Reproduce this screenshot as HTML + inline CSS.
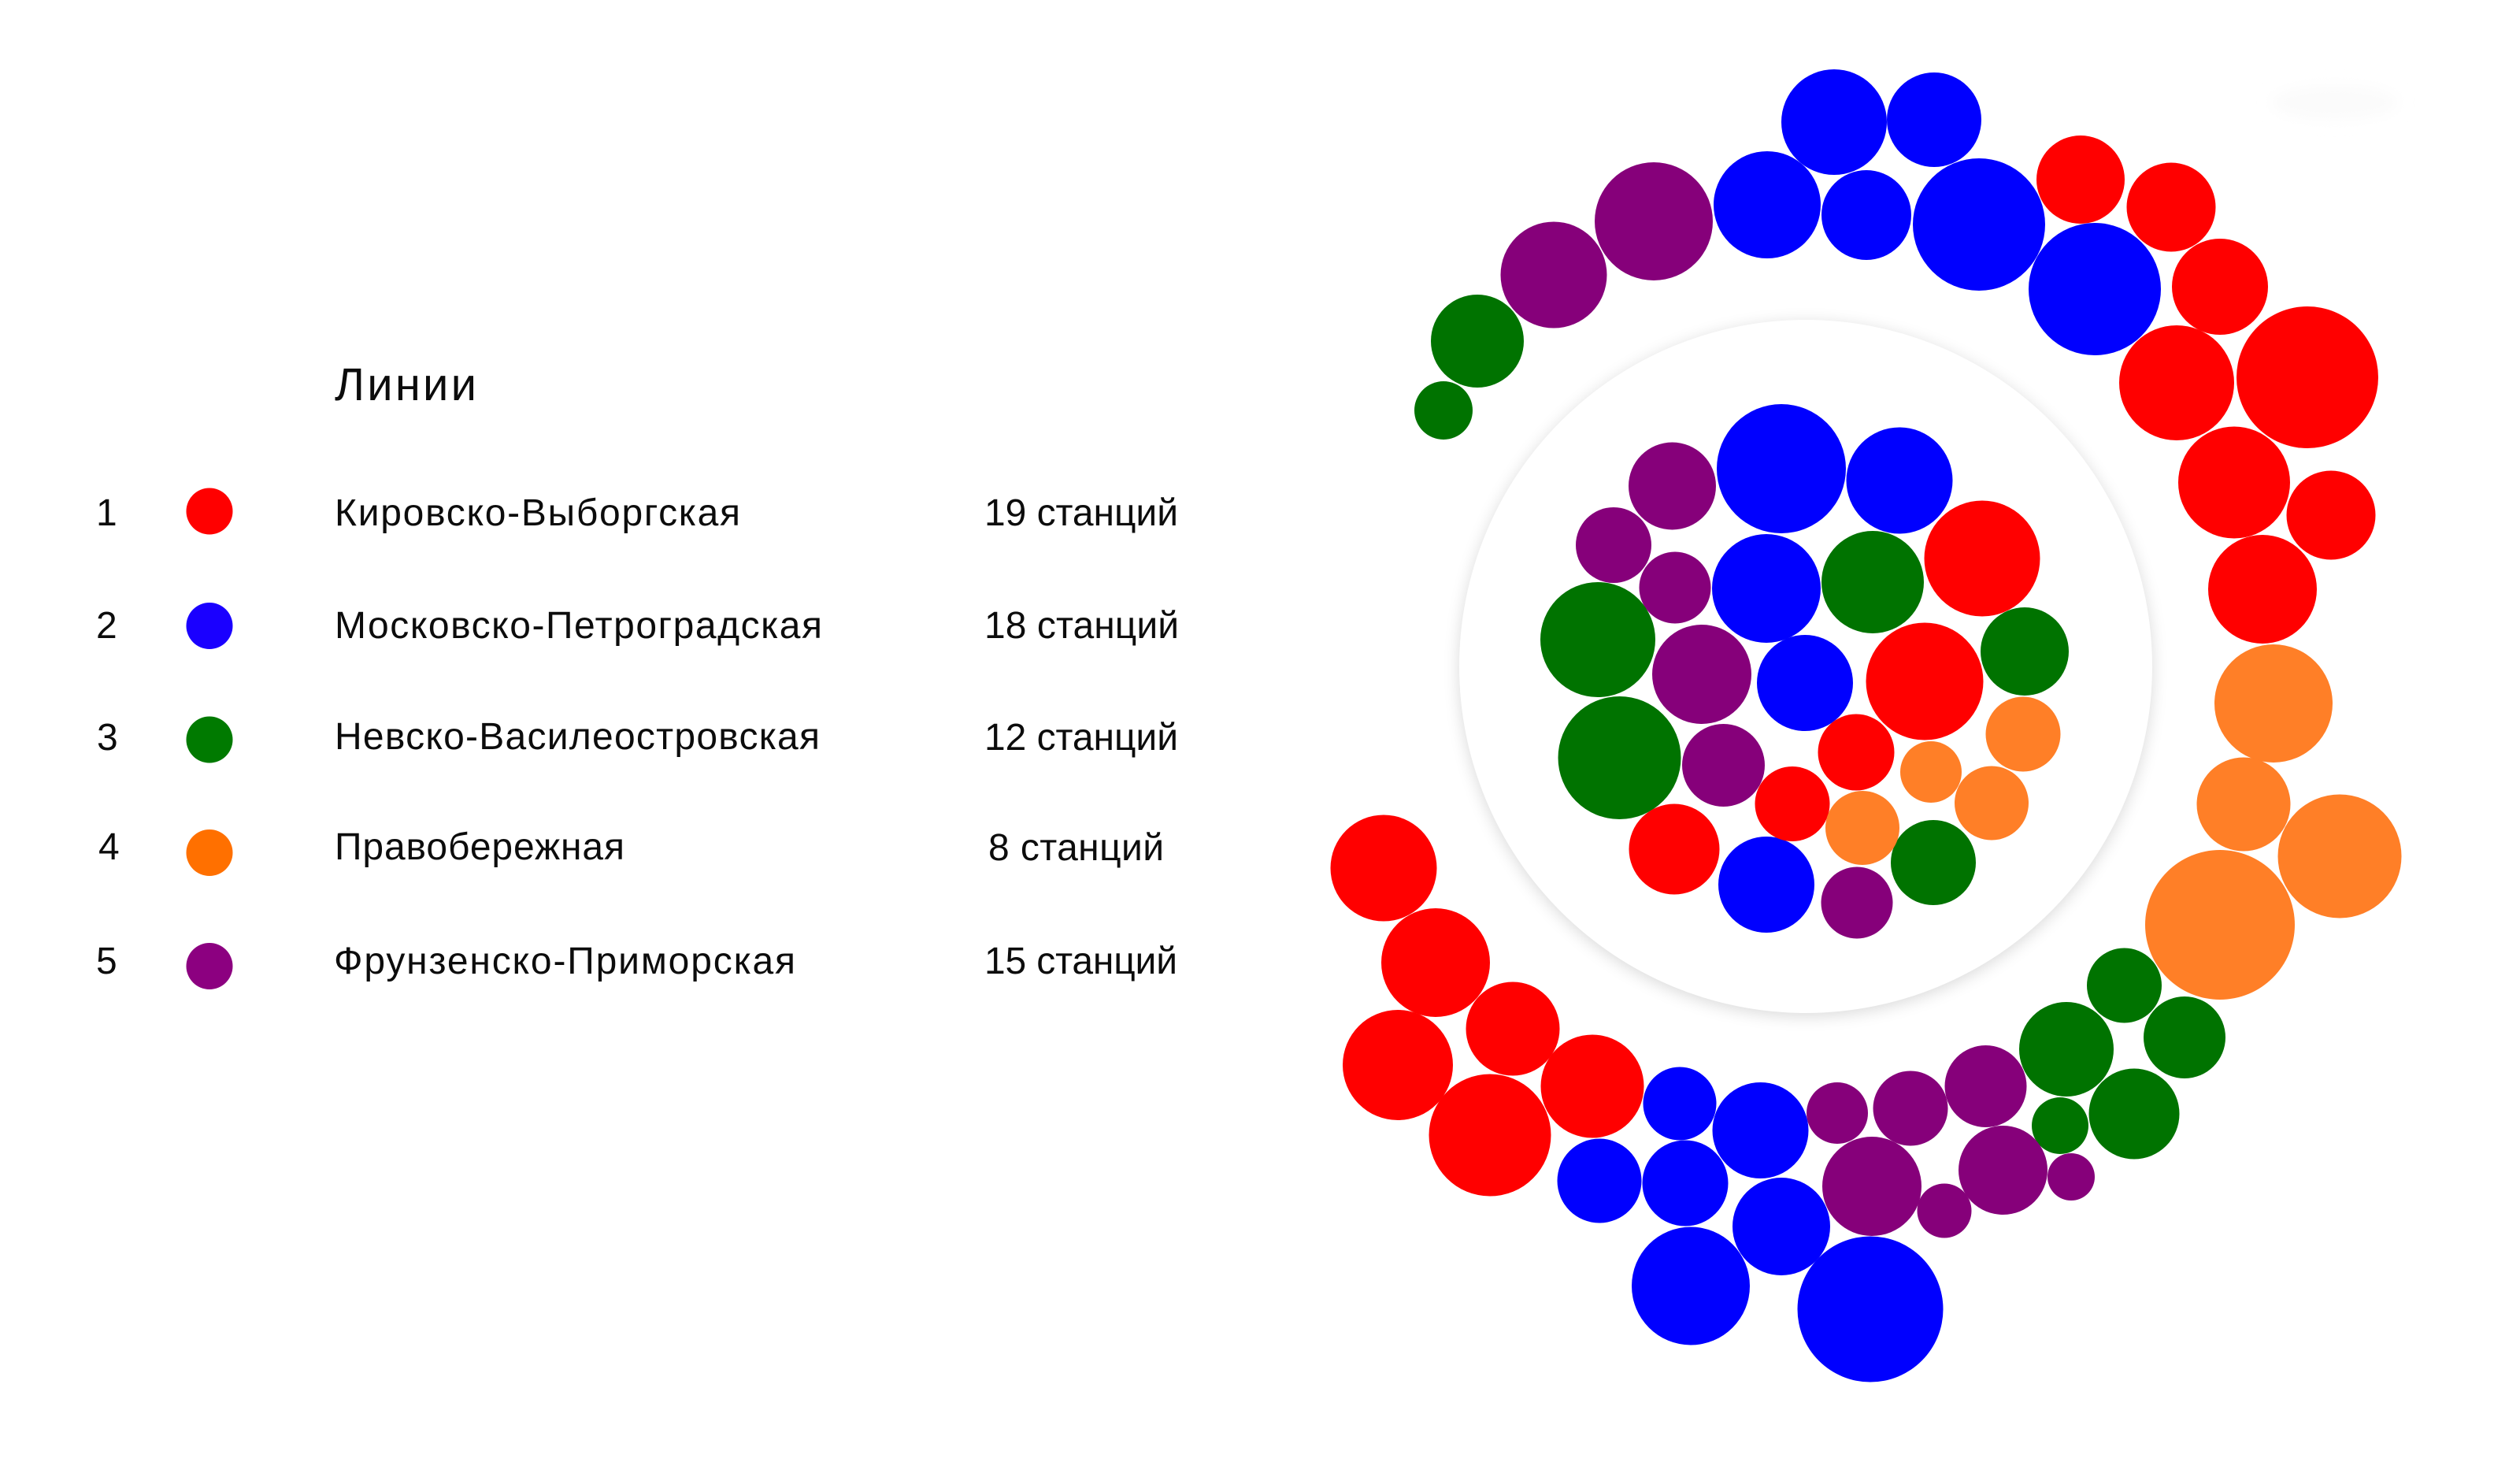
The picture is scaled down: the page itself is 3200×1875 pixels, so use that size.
<!DOCTYPE html>
<html lang="ru">
<head>
<meta charset="utf-8">
<title>Линии</title>
<style>
html,body{margin:0;padding:0;background:#fff;}
body{width:3200px;height:1875px;overflow:hidden;position:relative;}
#ring{position:absolute;left:1853px;top:406px;width:880px;height:880px;border-radius:50%;background:#fff;box-shadow:0 4px 20px rgba(0,0,0,.15);}
svg{position:absolute;left:0;top:0;}
text{font-family:"Liberation Sans",sans-serif;fill:#0c0c0c;font-size:48px;}
</style>
</head>
<body>
<div id="ring"></div>
<svg width="3200" height="1875" viewBox="0 0 3200 1875" xmlns="http://www.w3.org/2000/svg">
<defs><filter id="b" x="-50%" y="-50%" width="200%" height="200%"><feGaussianBlur stdDeviation="9"/></filter></defs>
<ellipse cx="2965" cy="130" rx="82" ry="22" fill="#fbfbfb" filter="url(#b)"/>

<!-- legend -->
<text x="425" y="508" style="font-size:58px" textLength="180">Линии</text>

<text x="122" y="667" textLength="16">1</text>
<text x="122" y="810" textLength="27">2</text>
<text x="123" y="952" textLength="25">3</text>
<text x="125" y="1091" textLength="26">4</text>
<text x="122" y="1236" textLength="25">5</text>

<circle cx="266" cy="649" r="29.5" fill="#ff0000"/>
<circle cx="266" cy="794.5" r="29.5" fill="#1a00ff"/>
<circle cx="266" cy="939" r="29.5" fill="#007a00"/>
<circle cx="266" cy="1082.5" r="29.5" fill="#ff7000"/>
<circle cx="266" cy="1226.5" r="29.5" fill="#8c0080"/>

<text x="425" y="667" textLength="515">Кировско-Выборгская</text>
<text x="425" y="810" textLength="619">Московско-Петроградская</text>
<text x="425" y="951" textLength="616">Невско-Василеостровская</text>
<text x="425" y="1091" textLength="368">Правобережная</text>
<text x="424" y="1236" textLength="586">Фрунзенско-Приморская</text>

<text x="1250" y="667" textLength="246">19 станций</text>
<text x="1250" y="810" textLength="247">18 станций</text>
<text x="1250" y="952" textLength="246">12 станций</text>
<text x="1255" y="1092" textLength="223">8 станций</text>
<text x="1250" y="1236" textLength="245">15 станций</text>

<!-- outer: blue top -->
<g fill="#0000ff">
<circle cx="2329" cy="155" r="67"/><circle cx="2456" cy="152" r="60"/><circle cx="2244" cy="260" r="68"/>
<circle cx="2370" cy="273" r="57"/><circle cx="2513" cy="285" r="84"/><circle cx="2660" cy="367" r="84"/>
</g>
<g fill="#86007a"><circle cx="2100" cy="281" r="75"/><circle cx="1973" cy="349" r="67.5"/></g>
<g fill="#007300"><circle cx="1876" cy="433" r="59"/><circle cx="1833" cy="521" r="37"/></g>
<g fill="#ff0000">
<circle cx="2642" cy="228" r="56"/><circle cx="2757" cy="263" r="56.5"/><circle cx="2819" cy="364" r="61"/>
<circle cx="2930" cy="479" r="90"/><circle cx="2764" cy="486" r="73"/><circle cx="2837" cy="612.5" r="71"/>
<circle cx="2960" cy="654" r="56.5"/><circle cx="2873" cy="748" r="69"/>
</g>
<g fill="#ff7f27">
<circle cx="2887" cy="893" r="75"/><circle cx="2971" cy="1087" r="78.5"/><circle cx="2849" cy="1021" r="59.5"/><circle cx="2819" cy="1174" r="95"/>
</g>
<!-- outer bottom -->
<g fill="#007300">
<circle cx="2697.5" cy="1251" r="47.5"/><circle cx="2774" cy="1317" r="52"/><circle cx="2624" cy="1332" r="60"/>
<circle cx="2710" cy="1414" r="57.5"/><circle cx="2616" cy="1429" r="36"/>
</g>
<g fill="#86007a">
<circle cx="2630" cy="1494" r="30"/><circle cx="2543.5" cy="1485.5" r="56.5"/><circle cx="2469" cy="1537" r="34.5"/>
<circle cx="2521.5" cy="1379" r="52"/><circle cx="2426" cy="1407" r="47.5"/><circle cx="2333" cy="1413" r="39"/><circle cx="2377" cy="1506" r="63"/>
</g>
<g fill="#0000ff">
<circle cx="2235.5" cy="1435" r="61"/><circle cx="2133" cy="1401" r="46.5"/><circle cx="2140" cy="1502" r="54.5"/>
<circle cx="2031" cy="1499" r="53.5"/><circle cx="2262" cy="1557" r="62"/><circle cx="2147" cy="1632.5" r="75"/><circle cx="2375" cy="1662" r="92.5"/>
</g>
<g fill="#ff0000">
<circle cx="2022" cy="1379" r="65.5"/><circle cx="1892" cy="1441" r="77.5"/><circle cx="1921" cy="1306" r="59.5"/>
<circle cx="1775" cy="1352" r="70"/><circle cx="1823" cy="1222" r="69"/><circle cx="1757" cy="1102" r="67.5"/>
</g>

<!-- inner -->
<g fill="#0000ff">
<circle cx="2262" cy="595" r="82"/><circle cx="2412" cy="610" r="67.5"/><circle cx="2243" cy="747" r="69"/>
<circle cx="2292" cy="867" r="61"/><circle cx="2243" cy="1123" r="61"/>
</g>
<g fill="#86007a">
<circle cx="2123.5" cy="617" r="55.5"/><circle cx="2049" cy="692" r="48"/><circle cx="2127" cy="746" r="45.5"/>
<circle cx="2161" cy="856" r="63"/><circle cx="2188.5" cy="971.5" r="52.5"/><circle cx="2358" cy="1146" r="45.5"/>
</g>
<g fill="#007300">
<circle cx="2378" cy="739" r="65"/><circle cx="2029" cy="812" r="73"/><circle cx="2571" cy="827" r="56"/>
<circle cx="2056.5" cy="962" r="78"/><circle cx="2455" cy="1095" r="54"/>
</g>
<g fill="#ff0000">
<circle cx="2517" cy="709" r="73.5"/><circle cx="2444" cy="865" r="74.5"/><circle cx="2357" cy="955" r="48.5"/>
<circle cx="2276" cy="1020.5" r="47.5"/><circle cx="2126" cy="1078" r="57.5"/>
</g>
<g fill="#ff7f27">
<circle cx="2569" cy="932" r="47.5"/><circle cx="2452" cy="980" r="39"/><circle cx="2529" cy="1019.5" r="47"/><circle cx="2365" cy="1051" r="47"/>
</g>
</svg>
</body>
</html>
